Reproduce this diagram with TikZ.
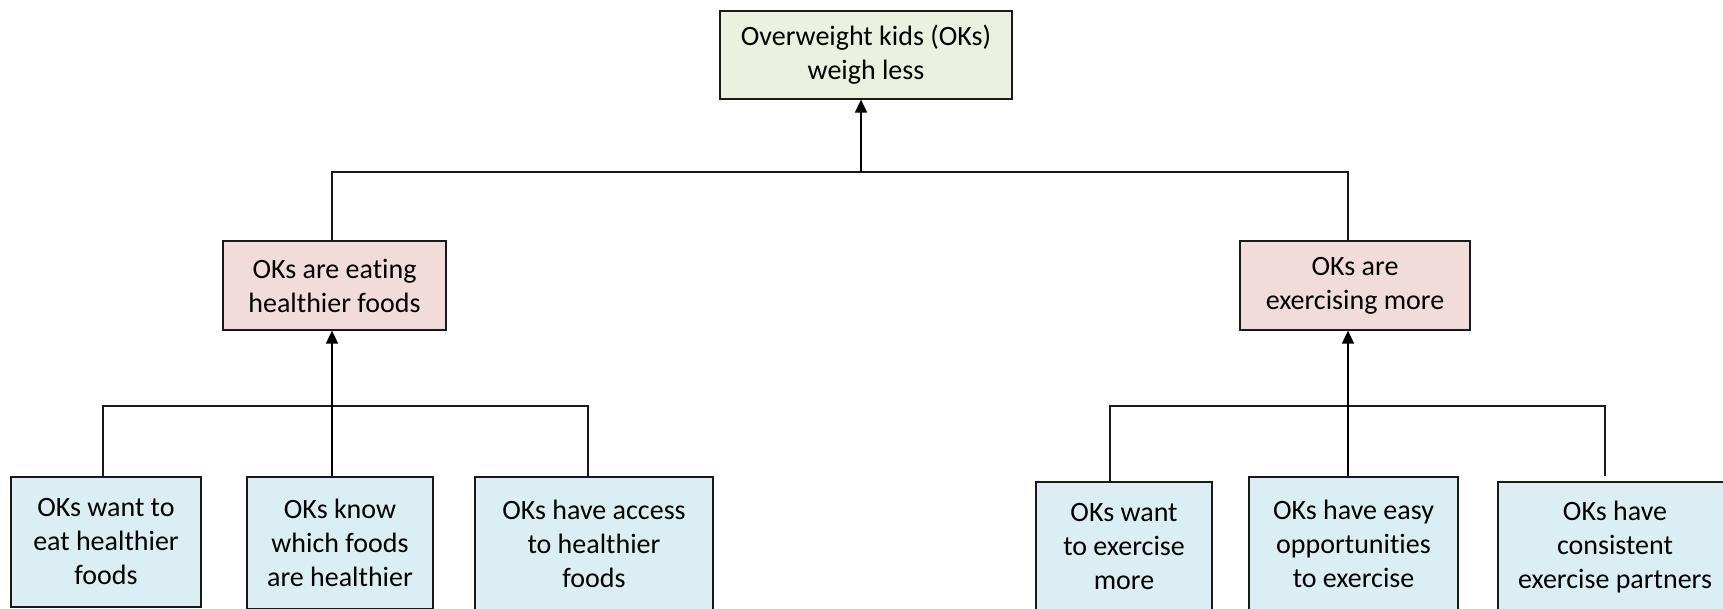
\documentclass[tikz,border=0pt]{standalone}
\usepackage{fontspec}
\setmainfont{Carlito}[Ligatures={NoCommon}]
\usetikzlibrary{arrows.meta}
\definecolor{topfill}{HTML}{EBF1DE}
\definecolor{midfill}{HTML}{F2DCDB}
\definecolor{lowfill}{HTML}{DBEEF4}
\definecolor{edgecol}{HTML}{1A1A1A}
\begin{document}
\begin{tikzpicture}[x=1pt,y=1pt,
  box/.style={draw=edgecol, line width=1.3pt, align=center, inner sep=0pt,
    font=\fontsize{28}{34}\selectfont, text=black},
  topbox/.style={box, fill=topfill},
  midbox/.style={box, fill=midfill},
  lowbox/.style={box, fill=lowfill},
  conn/.style={line width=1.3pt, draw=edgecol},
  arr/.style={line width=1.7pt, draw=black, -{Triangle[width=12pt,length=13pt]}}]
\useasboundingbox (0,0) rectangle (1723,609);
\fill[white] (0,0) rectangle (1723,609);

\node[topbox, minimum width=292, minimum height=88] (top) at (866,554) {Overweight kids (OKs)\\weigh less};
\node[midbox, minimum width=223, minimum height=89] (lm) at (334.5,323.5) {OKs are eating\\healthier foods};
\node[midbox, minimum width=230, minimum height=89] (rm) at (1355,323.5) {OKs are\\exercising more};

\node[lowbox, minimum width=190, minimum height=130] (b1) at (106,67) {OKs want to\\eat healthier\\foods};
\node[lowbox, minimum width=186, minimum height=132] (b2) at (340,66) {OKs know\\which foods\\are healthier};
\node[lowbox, minimum width=238, minimum height=134] (b3) at (594,65) {OKs have access\\to healthier\\foods};
\node[lowbox, minimum width=176, minimum height=130] (b4) at (1124,62) {OKs want\\to exercise\\more};
\node[lowbox, minimum width=209, minimum height=134] (b5) at (1353.5,65) {OKs have easy\\opportunities\\to exercise};
\node[lowbox, minimum width=234, minimum height=130] (b6) at (1615,62) {OKs have\\consistent\\exercise partners};

\coordinate (h1) at (861,437);
\coordinate (jl) at (332,437);
\coordinate (jr) at (1348,437);
\coordinate (l1) at (103,203);
\coordinate (l2) at (332,203);
\coordinate (l3) at (588,203);
\coordinate (r1) at (1110,203);
\coordinate (r2) at (1348,203);
\coordinate (r3) at (1605,203);

\draw[conn] (jl |- lm.north) -- (jl) -- (jr) -- (jr |- rm.north);
\draw[arr] (h1) -- (h1 |- top.south);

\draw[conn] (l1 |- b1.north) -- (l1) -- (l3) -- (l3 |- b3.north);
\draw[arr] (l2 |- b2.north) -- (l2 |- lm.south);

\draw[conn] (r1 |- b4.north) -- (r1) -- (r3) -- (r3 |- b5.north);
\draw[arr] (r2 |- b5.north) -- (r2 |- rm.south);
\end{tikzpicture}
\end{document}
